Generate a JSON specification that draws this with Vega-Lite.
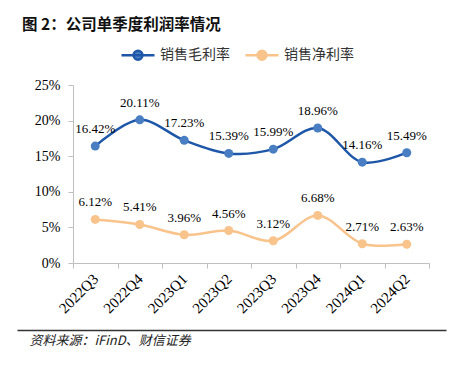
{
  "$schema": "https://vega.github.io/schema/vega-lite/v6.json",
  "padding": {"left": 12, "top": 17, "right": 8, "bottom": 2},
  "width": 429,
  "height": 178,
  "config": {"view": {"stroke": null}, "font": "Liberation Serif"},
  "title": {
    "text": "图 2：公司单季度利润率情况",
    "anchor": "start",
    "dx": 10,
    "offset": 4,
    "font": "Noto Sans CJK SC",
    "fontSize": 15.5,
    "fontWeight": "bold",
    "color": "#111"
  },
  "datasets": {
    "rates": [
      {"q": "2022Q3", "series": "销售毛利率", "v": 0.1642},
      {"q": "2022Q4", "series": "销售毛利率", "v": 0.2011},
      {"q": "2023Q1", "series": "销售毛利率", "v": 0.1723},
      {"q": "2023Q2", "series": "销售毛利率", "v": 0.1539},
      {"q": "2023Q3", "series": "销售毛利率", "v": 0.1599},
      {"q": "2023Q4", "series": "销售毛利率", "v": 0.1896},
      {"q": "2024Q1", "series": "销售毛利率", "v": 0.1416},
      {"q": "2024Q2", "series": "销售毛利率", "v": 0.1549},
      {"q": "2022Q3", "series": "销售净利率", "v": 0.0612},
      {"q": "2022Q4", "series": "销售净利率", "v": 0.0541},
      {"q": "2023Q1", "series": "销售净利率", "v": 0.0396},
      {"q": "2023Q2", "series": "销售净利率", "v": 0.0456},
      {"q": "2023Q3", "series": "销售净利率", "v": 0.0312},
      {"q": "2023Q4", "series": "销售净利率", "v": 0.0668},
      {"q": "2024Q1", "series": "销售净利率", "v": 0.0271},
      {"q": "2024Q2", "series": "销售净利率", "v": 0.0263}
    ],
    "hline": [{"a": 0}]
  },
  "resolve": {"scale": {"x": "independent"}, "axis": {"x": "independent"}},
  "layer": [
    {
      "data": {"name": "rates"},
      "encoding": {
        "x": {
          "field": "q",
          "type": "ordinal",
          "bandPosition": 0.5,
          "scale": {"type": "band", "paddingInner": 0, "paddingOuter": 0, "range": [56, 412]},
          "sort": null,
          "axis": {
            "title": null,
            "labelAngle": -45,
            "labelAlign": "right",
            "labelBaseline": "middle",
            "labelPadding": 8,
            "labelFont": "Liberation Serif",
            "labelFontSize": 15,
            "labelColor": "#000",
            "tickBand": "extent",
            "tickSize": 5,
            "tickColor": "#BFBFBF",
            "domainColor": "#BFBFBF",
            "grid": false
          }
        },
        "y": {
          "field": "v",
          "type": "quantitative",
          "scale": {"domain": [0, 0.25]},
          "axis": {
            "title": null,
            "offset": -56,
            "values": [0, 0.05, 0.1, 0.15, 0.2, 0.25],
            "format": ".0%",
            "labelFont": "Liberation Serif",
            "labelFontSize": 14,
            "labelColor": "#000",
            "labelPadding": 8,
            "tickSize": 5,
            "tickColor": "#BFBFBF",
            "domainColor": "#BFBFBF",
            "grid": false
          }
        }
      },
      "layer": [
        {
          "mark": {"type": "line", "strokeWidth": 2.5, "interpolate": "catmull-rom"},
          "encoding": {
            "stroke": {
              "field": "series",
              "type": "nominal",
              "sort": ["销售毛利率", "销售净利率"],
              "scale": {"domain": ["销售毛利率", "销售净利率"], "range": ["#1E57A8", "#F9C38C"]},
              "legend": {
                "orient": "none",
                "legendX": 103,
                "legendY": -48,
                "title": null,
                "direction": "horizontal",
                "labelFont": "Noto Sans CJK SC",
                "labelFontSize": 14,
                "labelColor": "#333",
                "symbolType": "M-1,0H1M-0.27,0A0.27,0.27 0 1,0 0.27,0A0.27,0.27 0 1,0 -0.27,0Z",
                "symbolSize": 1089,
                "symbolStrokeWidth": 2.5,
                "labelOffset": 4,
                "columnPadding": 10
              }
            }
          }
        },
        {
          "mark": {"type": "point", "filled": true, "size": 81, "opacity": 1},
          "encoding": {
            "fill": {
              "field": "series",
              "type": "nominal",
              "sort": ["销售毛利率", "销售净利率"],
              "scale": {"domain": ["销售毛利率", "销售净利率"], "range": ["#4A7EC3", "#F9C38C"]},
              "legend": {
                "orient": "none",
                "legendX": 103,
                "legendY": -48,
                "title": null,
                "direction": "horizontal",
                "labelFont": "Noto Sans CJK SC",
                "labelFontSize": 14,
                "labelColor": "#333",
                "symbolType": "M-1,0H1M-0.27,0A0.27,0.27 0 1,0 0.27,0A0.27,0.27 0 1,0 -0.27,0Z",
                "symbolSize": 1089,
                "symbolStrokeWidth": 2.5,
                "labelOffset": 4,
                "columnPadding": 10
              }
            }
          }
        },
        {
          "mark": {"type": "text", "dy": -13, "baseline": "alphabetic", "font": "Liberation Serif", "fontSize": 13, "color": "#000"},
          "encoding": {
            "text": {"field": "v", "type": "quantitative", "format": ".2%"}
          }
        }
      ]
    },
    {
      "data": {"name": "hline"},
      "mark": {"type": "rule", "opacity": 0},
      "encoding": {
        "x": {
          "field": "a",
          "type": "quantitative",
          "scale": {"domain": [0, 1]},
          "axis": {
            "orient": "bottom",
            "offset": 67,
            "title": "资料来源：iFinD、财信证券",
            "titleAnchor": "start",
            "titleAlign": "left",
            "titleX": 12,
            "titlePadding": 4,
            "titleFont": "Noto Sans CJK SC",
            "titleFontSize": 13,
            "titleFontStyle": "italic",
            "titleFontWeight": "normal",
            "titleColor": "#222",
            "labels": false,
            "ticks": false,
            "grid": false,
            "domainColor": "#333",
            "domainWidth": 1.5
          }
        }
      }
    }
  ]
}
